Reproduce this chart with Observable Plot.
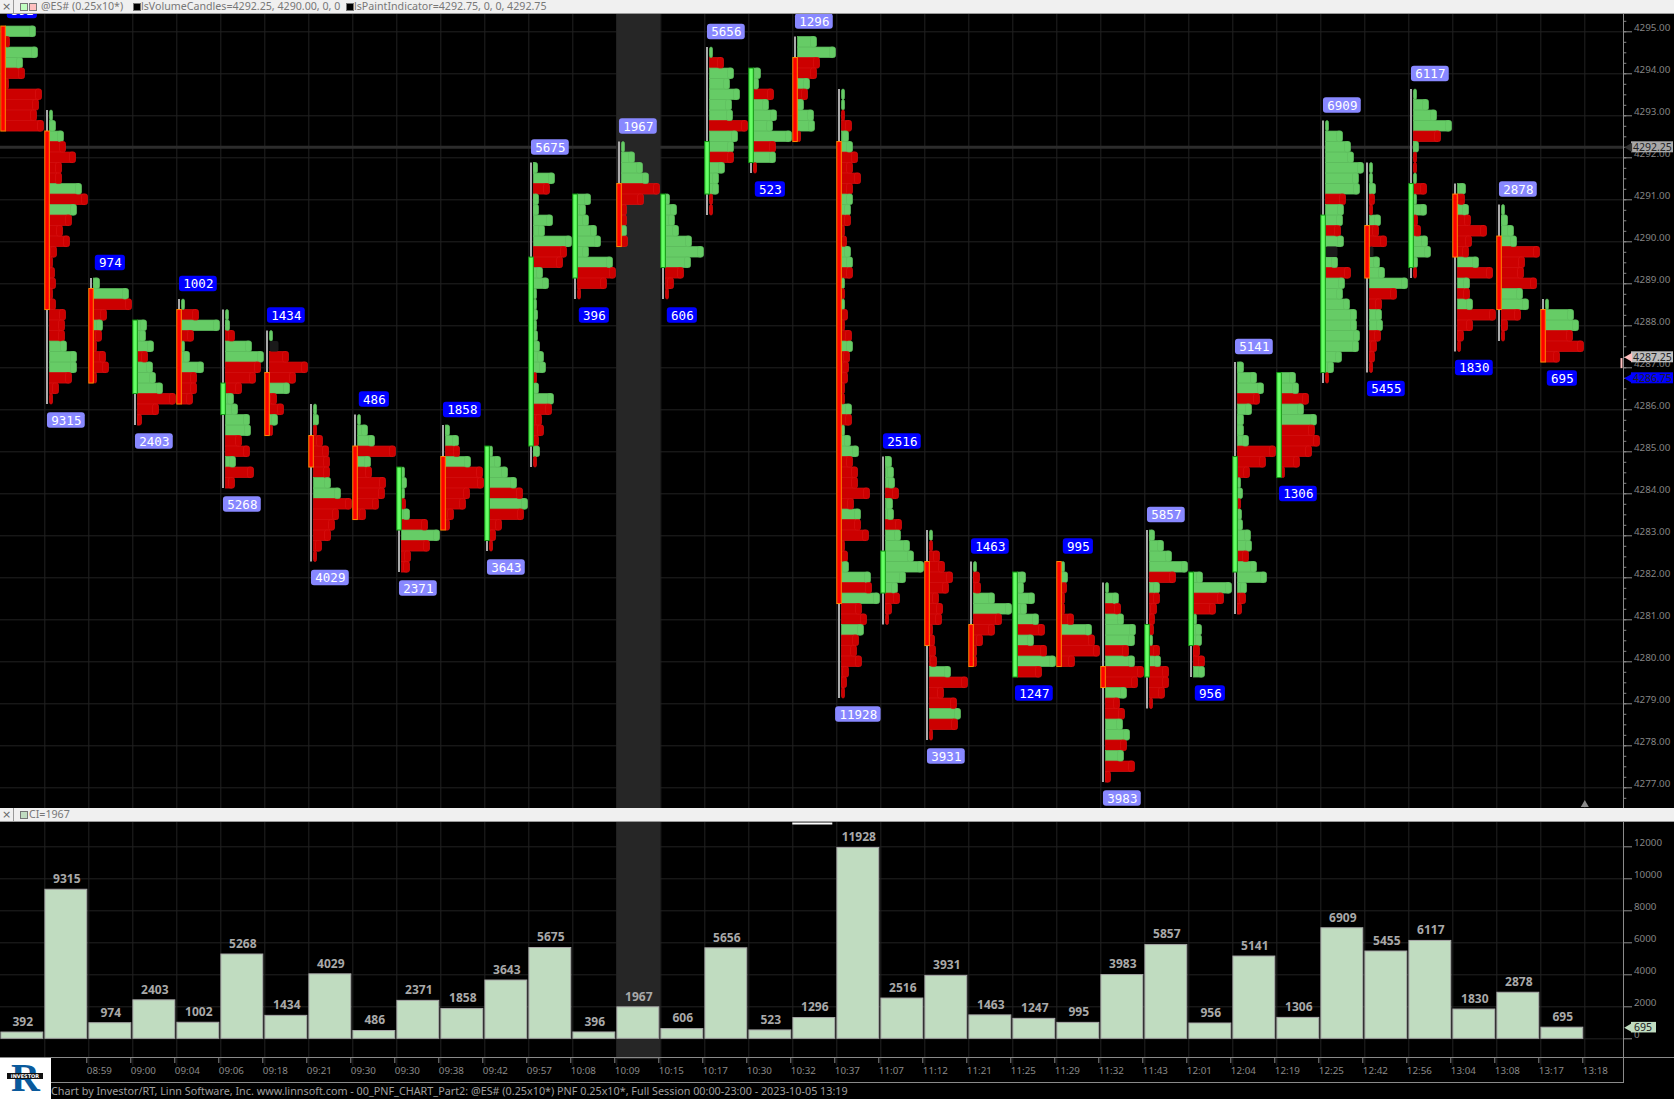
<!DOCTYPE html>
<html>
<head>
<meta charset="utf-8">
<script src="https://cdn.jsdelivr.net/npm/d3@7"></script>
<script src="https://cdn.jsdelivr.net/npm/@observablehq/plot@0.6"></script>
<style>
html,body{margin:0;padding:0;background:#000;width:1674px;height:1099px;overflow:hidden}
#page{position:relative;width:1674px;height:1099px;background:#000;font-family:"Noto Sans",sans-serif}
#page>*{position:absolute}
svg{display:block}
.bar{left:0;width:1674px;height:13px;background:#f0f0f0;border-bottom:1px solid #999;color:#777;font-size:10.65px;line-height:13px;white-space:pre}
.bar span{position:absolute;top:0}
.bar i{position:absolute;top:3px;width:6px;height:6px;border:1px solid #777}
.bar b{position:absolute;top:0;left:0;width:13px;height:13px;border-right:1px solid #999;font:400 11px/13px "DejaVu Sans";text-align:center;color:#666}
#logo{left:0;top:1058px;width:51px;height:41px;background:#fff;overflow:hidden}
#logo span{position:absolute}
</style>
</head>
<body>
<div id="page"></div>
<script>
const volumes=[392,9315,974,2403,1002,5268,1434,4029,486,2371,1858,3643,5675,396,1967,606,5656,523,1296,11928,2516,3931,1463,1247,995,3983,5857,956,5141,1306,6909,5455,6117,1830,2878,695];
const timeLabels=["08:59","09:00","09:04","09:06","09:18","09:21","09:30","09:30","09:38","09:42","09:57","10:08","10:09","10:15","10:17","10:30","10:32","10:37","11:07","11:12","11:21","11:25","11:29","11:32","11:43","12:01","12:04","12:19","12:25","12:42","12:56","13:04","13:08","13:17","13:18"];
const priceTicks=[4277,4278,4279,4280,4281,4282,4283,4284,4285,4286,4287,4288,4289,4290,4291,4292,4293,4294,4295];
const volumeTicks=[0,2000,4000,6000,8000,10000,12000];
const candleDirection="RRRGRGRRRGRGGGRGGGRRGRRGRRGGGGGRGRRR";
const bodyTop=[4295,4292.5,4288.75,4288,4288.25,4286.5,4286.75,4285.25,4285,4284.5,4284.75,4285,4289.5,4291,4291.25,4291,4292.25,4294,4294.25,4292.25,4282.5,4282.25,4280.75,4282,4282.25,4279.75,4280.75,4282,4284.75,4286.75,4290.5,4290.25,4291.25,4291,4290,4288.25];
const bodyBottom=[4292.75,4288.5,4286.75,4286.5,4286.25,4286,4285.5,4284.75,4283.5,4283.25,4283.25,4283,4285.25,4289.25,4290,4289.5,4291.25,4292,4292.5,4281.5,4281.75,4280.5,4280,4279.75,4280,4279.5,4279.75,4280.5,4282.25,4284.5,4287,4289.25,4289.5,4289.75,4288.5,4287.25];
const profileTop=[4295,4293,4289,4288,4288.5,4288.25,4287.75,4286,4285.75,4284.5,4285.5,4285,4291.75,4291,4292.25,4291,4294.5,4294,4294.75,4293.5,4284.75,4283,4282.25,4282,4282.25,4281.75,4283,4282,4287,4286.75,4292.75,4291.75,4293.5,4291.25,4290.75,4288.5];
// Volume-at-price length per price row, top row first; positive = green row, negative = red row
const profileRows=[
[30,-4,32,17,-19,-3,-36,-33,-31,-38],
[3,6,14,-16,-26,-12,-12,32,-38,27,-22,-13,-20,-7,-3,-5,-6,-3,-6,-16,-15,-15,17,27,27,-22,-9,-3],
[6,35,-38,-13,9,-8,-3,-12,-15,-3],
[9,8,16,-10,15,18,25,-38,-21,-4],
[3,-17,38,-12,3,8,22,-15,-15,-11],
[3,4,-9,26,38,-35,-30,-16,8,12,24,25,-16,-24,10,-28,-9],
[3,0,-19,-38,-26,20,-7,-14,8,-3],
[3,5,-3,-9,-15,-16,-16,17,27,-38,-25,-21,-17,-8,-3],
[3,10,17,-38,13,-14,-28,-27,-21,-8],
[3,5,3,-4,8,-26,38,-28,-9,-8],
[4,13,-14,25,-37,-38,-24,-20,-8,-4],
[3,11,18,27,-33,38,-34,-12,-6,-3],
[4,21,-16,5,5,19,11,38,-33,-29,9,15,3,3,4,3,4,6,10,12,-3,5,20,-18,-8,-10,-5,6,-3],
[13,8,11,19,23,11,35,-38,-29,-3],
[3,13,21,27,-38,-22,-5,-5,5,-6],
[4,11,9,13,26,38,25,-18,-8,-3],
[3,-14,24,20,30,22,23,-38,28,24,-24,15,9,9,-3,-3],
[7,5,-20,15,23,19,38,-22,22,-3],
[19,38,-22,-19,12,-10,6,16,17,-3],
[3,3,-3,-10,7,11,-16,-11,-19,-11,11,9,-9,-3,-5,9,11,-11,3,-3,3,-6,-3,-10,11,-8,-7,-6,-3,-3,10,-10,3,9,17,-11,-16,-16,-28,-12,19,-19,-27,-3,-6,7,29,-30,38,-20,-25,22,-17,-15,-20,-7,-5,-3],
[6,8,9,-13,7,8,-16,15,24,28,38,20,12,-14,-6,-3],
[3,-3,-10,-15,-23,-19,-9,-13,-12,-3,-5,-6,-7,21,-38,-14,-27,31,-28,-3],
[3,-6,-7,21,38,-28,-21,-9,-3,-3],
[8,6,17,9,21,-27,16,-29,38,-24],
[3,6,-5,-3,-3,-12,30,-33,-38,-13],
[3,13,-15,18,30,29,-23,29,-38,-32,21,-14,-19,17,24,-21,18,-29,-5],
[5,14,22,38,-26,10,-10,-7,-5,-4,3,-10,11,-19,-19,-15,-3],
[9,38,-30,-22,3,8,8,-6,-11,11],
[6,19,26,-22,14,6,6,11,-38,-28,-12,3,5,-3,4,5,13,14,-11,19,29,9,-8,-4],
[14,17,-27,22,35,-33,-38,-30,-18,-3],
[3,17,25,28,38,33,34,-20,18,17,-15,18,0,12,-25,19,17,24,31,31,34,33,16,8,-3],
[3,3,6,-5,-3,11,-9,-17,0,10,15,38,-27,-12,12,13,-11,-7,-5,-3],
[3,15,23,38,-27,5,-3,-3,3,-13,3,13,-4,-7,14,17,4,-3],
[8,-7,11,-13,-29,-14,-11,21,-35,12,-12,15,-38,-15,-6,-3],
[3,6,12,15,-38,-23,-22,-35,21,27,-19,-6,-3],
[3,28,33,-27,-38,-14]
];
// Rows with no net delta are drawn dark: [candle, price, length]
const neutralRows=[[6,4287.5,9],[30,4289.75,12],[31,4289.75,4]];

const W=1674, axisX=1623, colPx=44, tick=0.25, pxPerPoint=42;
const page=document.getElementById("page");
const colColor="#262626", gridColor="#222", axisColor="#8a8a8a", highlightCol=14;
const numFont="Noto Sans";
const xDomain=[-0.3/colPx,(axisX-0.3)/colPx];
const colsGrid=d3.range(1,37);
const px=p=>p/colPx;
const rowStart=5.2;

const rows=[];
profileRows.forEach((r,c)=>r.forEach((v,i)=>{
  if(v!==0) rows.push({c,p:profileTop[c]-i*tick,len:Math.abs(v),up:v>0});
}));
const candles=volumes.map((v,c)=>({
  c,v,up:candleDirection[c]==="G",top:bodyTop[c],bot:bodyBottom[c],
  hi:profileTop[c],lo:profileTop[c]-(profileRows[c].length-1)*tick,
  rising:c>0&&v>volumes[c-1]
}));
const labels=candles.map(d=>{
  const above=d.c%2===0, s=String(d.v), w=s.length*7.7+7;
  const yc=above?d.hi+tick/2+15.5/pxPerPoint:d.lo-tick/2-16/pxPerPoint;
  return {...d,s,w,yc};
});
const rowFill=d=>d.up?"#66cc66":"#cc0000";
const rowStroke=d=>d.up?"#5fbf5f":"#d81010";

const mainMinor=d3.range(4276.75,4295.51,tick);
const main=Plot.plot({
  width:W,height:794,margin:0,marginRight:W-axisX,
  style:{background:"#000",overflow:"hidden"},
  x:{type:"linear",domain:xDomain,range:[0,axisX],axis:null},
  y:{type:"linear",domain:[4277,4295],range:[773.3,17.3],axis:null},
  marks:[
    Plot.ruleX(colsGrid,{x:d=>d,stroke:gridColor}),
    Plot.ruleY(priceTicks,{x1:xDomain[0],x2:xDomain[1],y:d=>d,stroke:gridColor}),
    Plot.ruleY([4292.25],{x1:xDomain[0],x2:xDomain[1],y:d=>d,stroke:"#2c2c2c",strokeWidth:3}),
    Plot.rect([highlightCol],{x1:d=>d,x2:d=>d+1,y1:4276,y2:4296,fill:colColor}),
    // wicks
    Plot.ruleX(candles,{x:d=>d.c+px(2.2),y1:d=>d.hi+tick/2,y2:d=>d.lo-tick/2,stroke:"#aaa",strokeWidth:2}),
    // volume-at-price rows: square from the candle, rounded at the far end
    Plot.rect(rows.filter(d=>d.len>3),{x1:d=>d.c+px(rowStart),x2:d=>d.c+px(rowStart+d.len-2.5),y1:d=>d.p-tick/2,y2:d=>d.p+tick/2,
      fill:rowFill,stroke:rowStroke,strokeWidth:0.7,inset:0}),
    Plot.rect(rows,{x1:d=>d.c+px(rowStart+d.len-Math.min(d.len,6)),x2:d=>d.c+px(rowStart+d.len),y1:d=>d.p-tick/2,y2:d=>d.p+tick/2,
      fill:rowFill,stroke:rowStroke,strokeWidth:0.7,inset:0,rx:2}),
    Plot.rect(neutralRows,{x1:d=>d[0]+px(rowStart),x2:d=>d[0]+px(rowStart+d[2]),y1:d=>d[1]-tick/2,y2:d=>d[1]+tick/2,fill:"#1a1a1a",inset:0,rx:2}),
    // candle bodies
    Plot.rect(candles,{x1:d=>d.c+px(0.5),x2:d=>d.c+px(5),y1:d=>d.top+tick/2,y2:d=>d.bot-tick/2,
      fill:d=>d.up?"#66ff66":"#ff0000",stroke:d=>d.up?"#119911":"#ff8800",strokeWidth:1,inset:0}),
    // volume tags
    Plot.rect(labels,{x1:d=>d.c+0.49-px(d.w/2),x2:d=>d.c+0.49+px(d.w/2),y1:d=>d.yc-7.75/pxPerPoint,y2:d=>d.yc+7.75/pxPerPoint,
      fill:d=>d.rising?"#8888ff":"#0000ff",inset:0,rx:3}),
    Plot.text(labels,{x:d=>d.c+0.49,y:d=>d.yc,text:d=>d.s,fill:"#fff",fontFamily:"DejaVu Sans Mono",fontSize:12.5,fontWeight:500}),
    // right axis
    Plot.ruleX([xDomain[1]],{x:d=>d,y1:4276,y2:4296,stroke:axisColor}),
    Plot.ruleY(mainMinor,{x1:xDomain[1],x2:xDomain[1]+px(3.3),y:d=>d,stroke:axisColor}),
    Plot.ruleY(priceTicks,{x1:xDomain[1],x2:xDomain[1]+px(9),y:d=>d,stroke:axisColor}),
    Plot.text(priceTicks,{x:xDomain[1]+px(10.5),y:d=>d,dy:-4,text:d=>d.toFixed(2),textAnchor:"start",fill:"#858585",fontFamily:numFont,fontSize:9.8}),
    // price tags
    Plot.rect([[4292.25,"#a8a8a8"],[4287.25,"#bdbdbd"],[4286.75,"#0000ff"]],{x1:xDomain[1]+px(8),x2:xDomain[1]+px(50),y1:d=>d[0]-5.5/pxPerPoint,y2:d=>d[0]+5.5/pxPerPoint,fill:d=>d[1],inset:0}),
    Plot.dot([[4292.25,"#333"],[4287.25,"#ffc0c0"],[4286.75,"#0000ff"]],{x:xDomain[1]+px(6),y:d=>d[0],fill:d=>d[1],symbol:"triangle",r:3.4,rotate:-90}),
    Plot.ruleX([0],{x:xDomain[1]-px(2),y1:4287.22,y2:4286.98,stroke:"#ffc0c0",strokeWidth:2}),
    Plot.text([4292.25,4287.25,4286.75],{x:xDomain[1]+px(9.5),y:d=>d,text:d=>d.toFixed(2),textAnchor:"start",fill:"#222",fontFamily:numFont,fontSize:10.5}),
    Plot.dot([36],{x:d=>d,y:4276.6,fill:"#888",symbol:"triangle",r:3}),
    Plot.ruleY([4295.48],{x1:18,x2:18+px(40),y:d=>d,stroke:"#fff",strokeWidth:2})
  ]
});
main.style.top="14px";main.style.left="0";main.style.position="absolute";

const lowerLabels=volumes.map((v,c)=>({c,v}));
const lower=Plot.plot({
  width:W,height:260,marginTop:0,marginLeft:0,marginRight:W-axisX,marginBottom:25,
  style:{background:"#000",overflow:"hidden"},
  x:{type:"linear",domain:xDomain,range:[0,axisX],axis:null},
  y:{type:"linear",domain:[0,12000],range:[216.3,24.3],axis:null},
  marks:[
    Plot.ruleX(colsGrid,{x:d=>d,y1:-1700,y2:14000,stroke:gridColor}),
    Plot.ruleY(volumeTicks,{x1:xDomain[0],x2:xDomain[1],y:d=>d,stroke:gridColor}),
    Plot.rect([highlightCol],{x1:d=>d,x2:d=>d+1,y1:-1300,y2:14000,fill:colColor}),
    Plot.rect(lowerLabels,{x1:d=>d.c+px(0.6),x2:d=>d.c+px(42.5),y1:0,y2:d=>d.v,fill:"#c0dcc0",stroke:"#a8a8a8",strokeWidth:1,inset:0}),
    Plot.text(lowerLabels,{x:d=>d.c+0.5,y:d=>d.v,dy:-10.5,text:d=>String(d.v),fill:"#a9a9a9",fontFamily:numFont,fontWeight:700,fontSize:12}),
    Plot.ruleX([xDomain[1]],{x:d=>d,y1:-2800,y2:14000,stroke:axisColor}),
    Plot.ruleY(volumeTicks,{x1:xDomain[1],x2:xDomain[1]+px(9),y:d=>d,stroke:axisColor}),
    Plot.text(volumeTicks,{x:xDomain[1]+px(10.5),y:d=>d,dy:-4,text:d=>String(d),textAnchor:"start",fill:"#858585",fontFamily:numFont,fontSize:9.8}),
    Plot.rect([695],{x1:xDomain[1]+px(8),x2:xDomain[1]+px(33),y1:d=>d-330,y2:d=>d+330,fill:"#c0dcc0",inset:0}),
    Plot.dot([695],{x:xDomain[1]+px(6),y:d=>d,fill:"#c0dcc0",symbol:"triangle",r:3.4,rotate:-90}),
    Plot.text([695],{x:xDomain[1]+px(10.5),y:d=>d,text:d=>String(d),textAnchor:"start",fill:"#222",fontFamily:numFont,fontSize:10.5}),
    Plot.ruleY([13460],{x1:18,x2:18+px(40),y:d=>d,stroke:"#fff",strokeWidth:2}),
    Plot.axisX(timeLabels.map((_,i)=>i+2),{anchor:"bottom",tickSize:6,tickPadding:4,tickFormat:k=>timeLabels[k-2],textAnchor:"start",dx:-2,color:"#8a8a8a",fontFamily:numFont,fontSize:9.8,label:null})
  ]
});
lower.style.top="822px";lower.style.left="0";lower.style.position="absolute";

page.append(main,lower);

function el(html){const t=document.createElement("template");t.innerHTML=html.trim();return t.content.firstChild;}
page.append(el(`<div class="bar" style="top:0"><b>×</b><i style="left:20px;background:#c0ffc0"></i><i style="left:29px;background:#ffc0c0"></i><span style="left:41px">@ES# (0.25x10*)</span><i style="left:133px;background:#000"></i><span style="left:141px">lsVolumeCandles=4292.25, 4290.00, 0, 0</span><i style="left:346px;background:#000"></i><span style="left:354px">lsPaintIndicator=4292.75, 0, 0, 4292.75</span></div>`));
page.append(el(`<div class="bar" style="top:808px"><b>×</b><i style="left:20px;background:#c0dcc0"></i><span style="left:29px">CI=1967</span></div>`));
page.append(el(`<div style="left:0;top:1057px;width:1674px;height:1px;background:#8a8a8a"></div>`));
page.append(el(`<div style="left:51px;top:1082px;width:1573px;height:1px;background:#8a8a8a"></div>`));
page.append(el(`<div style="left:51px;top:1083px;width:1000px;height:16px;color:#a0a0a0;font-size:10.8px;line-height:16px;white-space:nowrap">Chart by Investor/RT, Linn Software, Inc. www.linnsoft.com - 00_PNF_CHART_Part2: @ES# (0.25x10*) PNF 0.25x10*, Full Session 00:00-23:00 - 2023-10-05 13:19</div>`));
page.append(el(`<div id="logo"><span style="left:11px;top:1px;height:40px;font:700 40px/38px 'Liberation Serif';color:#0a5a9c">R</span><span style="left:7px;top:15px;width:36px;height:6px;background:#111;color:#fff;font:700 5px/6px 'DejaVu Sans';text-align:center">INVESTOR</span></div>`));
</script>
</body>
</html>
